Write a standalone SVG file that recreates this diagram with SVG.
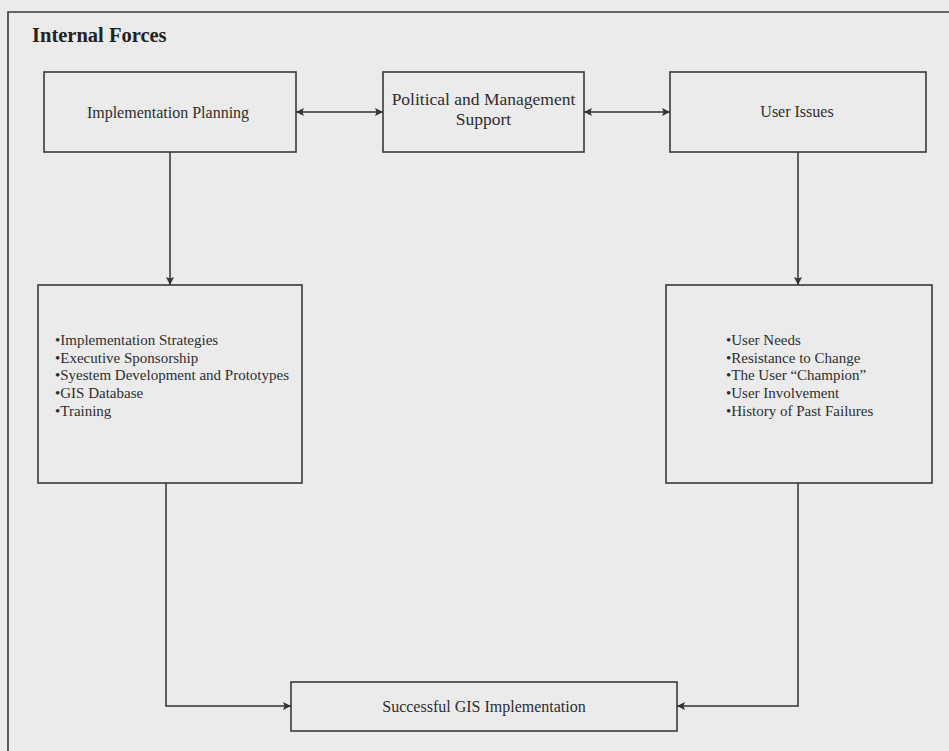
<svg xmlns="http://www.w3.org/2000/svg" width="949" height="751" viewBox="0 0 949 751">
<defs>
<marker id="ah" viewBox="0 0 10 10" refX="10" refY="5" markerWidth="10" markerHeight="8" markerUnits="userSpaceOnUse" orient="auto-start-reverse">
<path d="M0,0 L10,5 L0,10 L2,5 Z" fill="#333"/>
</marker>
<style>
.box{fill:none;stroke:#3a3a3a;stroke-width:1.6}
.lbl{font-family:"Liberation Serif","Times New Roman",serif;font-size:16px;fill:#2e2e2e;text-anchor:middle}
.lst{font-family:"Liberation Serif","Times New Roman",serif;font-size:15px;fill:#2e2e2e}
.con{fill:none;stroke:#333;stroke-width:1.5}
</style>
</defs>
<rect x="0" y="0" width="949" height="751" fill="#ebebeb"/>
<path d="M8,760 L8,12 L960,12" fill="none" stroke="#3a3a3a" stroke-width="1.6"/>
<text x="32" y="42" font-family="Liberation Serif, Times New Roman, serif" font-size="20.5px" font-weight="bold" fill="#222">Internal Forces</text>

<g id="implementation-planning">
<rect class="box" x="44" y="72" width="252" height="80"/>
<text class="lbl" x="168" y="118">Implementation Planning</text>
</g>
<g id="political-support">
<rect class="box" x="383" y="72" width="201" height="80"/>
<text class="lbl" x="483.5" y="105" style="font-size:17.5px">Political and Management</text>
<text class="lbl" x="483.5" y="125" style="font-size:17.5px">Support</text>
</g>
<g id="user-issues">
<rect class="box" x="670" y="72" width="256" height="80"/>
<text class="lbl" x="797" y="117">User Issues</text>
</g>
<g id="planning-factors">
<rect class="box" x="38" y="285" width="264" height="198"/>
<text class="lst" x="55" y="345">•Implementation Strategies</text>
<text class="lst" x="55" y="362.7">•Executive Sponsorship</text>
<text class="lst" x="55" y="380.4">•Syestem Development and Prototypes</text>
<text class="lst" x="55" y="398.1">•GIS Database</text>
<text class="lst" x="55" y="415.8">•Training</text>
</g>
<g id="user-factors">
<rect class="box" x="666" y="285" width="266" height="198"/>
<text class="lst" x="726" y="345">•User Needs</text>
<text class="lst" x="726" y="362.7">•Resistance to Change</text>
<text class="lst" x="726" y="380.4">•The User “Champion”</text>
<text class="lst" x="726" y="398.1">•User Involvement</text>
<text class="lst" x="726" y="415.8">•History of Past Failures</text>
</g>
<g id="successful-gis">
<rect class="box" x="291" y="682" width="386" height="49"/>
<text class="lbl" x="484" y="712">Successful GIS Implementation</text>
</g>

<g id="connectors">
<line class="con" x1="296" y1="112" x2="383" y2="112" marker-start="url(#ah)" marker-end="url(#ah)"/>
<line class="con" x1="584" y1="112" x2="670" y2="112" marker-start="url(#ah)" marker-end="url(#ah)"/>
<line class="con" x1="170" y1="152" x2="170" y2="285" marker-end="url(#ah)"/>
<line class="con" x1="798" y1="152" x2="798" y2="285" marker-end="url(#ah)"/>
<path class="con" d="M166,483 L166,706 L291,706" marker-end="url(#ah)"/>
<path class="con" d="M798,483 L798,706 L677,706" marker-end="url(#ah)"/>
</g>
</svg>
